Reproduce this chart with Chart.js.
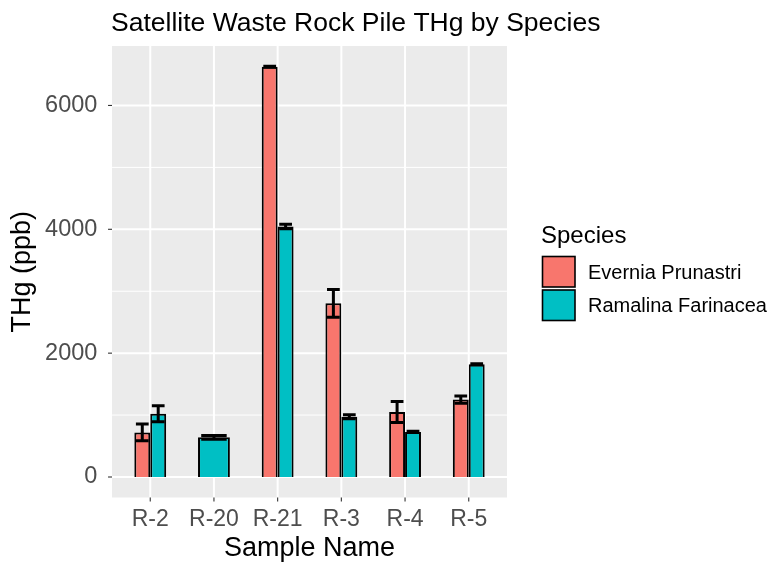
<!DOCTYPE html>
<html>
<head>
<meta charset="utf-8">
<title>Satellite Waste Rock Pile THg by Species</title>
<script src="https://cdn.jsdelivr.net/npm/chart.js@4/dist/chart.umd.min.js"></script>
<style>
  html, body { margin: 0; padding: 0; background: #ffffff; overflow: hidden; }
  #wrap { width: 777px; height: 563px; }
</style>
</head>
<body>
<div id="wrap"><canvas id="chart" width="777" height="563"></canvas></div>
<script>
// Sample names along the x axis
const categories = ['R-2', 'R-20', 'R-21', 'R-3', 'R-4', 'R-5'];

// Mean total mercury (ppb) and standard deviation per species
const everniaMean = [720, null, 6625, 2805, 1050, 1250];
const everniaSd   = [134, null, 10, 224, 169, 58];
const ramalinaMean = [1022, 640, 4045, 972, 728, 1820];
const ramalinaSd   = [128, 32, 35, 32, 10, 10];

// Axis ticks
const yMajorTicks = [0, 2000, 4000, 6000];
const yMinorTicks = [1000, 3000, 5000];

const speciesNames = ['Evernia Prunastri', 'Ramalina Farinacea'];
const speciesColors = ['#F8766D', '#00BFC4'];

const titleText = 'Satellite Waste Rock Pile THg by Species';
const legendTitle = 'Species';
const xTitle = 'Sample Name';
const yTitle = 'THg (ppb)';

const FONT = '"Liberation Sans", Arial, sans-serif';

// ggplot-like panel: grey background, white grid, tick marks, title, legend, error bars
const ggPanel = {
  id: 'ggPanel',
  beforeDraw(chart) {
    const { ctx, chartArea: a, scales: { x, y } } = chart;
    const step = (a.right - a.left) / categories.length;
    const pl = a.left - 0.1 * step, pr = a.right + 0.1 * step;
    ctx.save();
    ctx.fillStyle = '#ffffff';
    ctx.fillRect(0, 0, chart.width, chart.height);
    ctx.fillStyle = '#EBEBEB';
    ctx.fillRect(pl, a.top, pr - pl, a.bottom - a.top);
    ctx.strokeStyle = '#ffffff';
    // minor horizontal grid
    ctx.lineWidth = 1.0;
    yMinorTicks.forEach(v => {
      const py = y.getPixelForValue(v);
      ctx.beginPath(); ctx.moveTo(pl, py); ctx.lineTo(pr, py); ctx.stroke();
    });
    // major horizontal grid
    ctx.lineWidth = 2.0;
    yMajorTicks.forEach(v => {
      const py = y.getPixelForValue(v);
      ctx.beginPath(); ctx.moveTo(pl, py); ctx.lineTo(pr, py); ctx.stroke();
    });
    // vertical grid at categories
    categories.forEach((c, i) => {
      const px = x.getPixelForValue(i);
      ctx.beginPath(); ctx.moveTo(px, a.top); ctx.lineTo(px, a.bottom); ctx.stroke();
    });
    // tick marks
    ctx.strokeStyle = '#333333';
    ctx.lineWidth = 1.1;
    yMajorTicks.forEach(v => {
      const py = y.getPixelForValue(v);
      ctx.beginPath(); ctx.moveTo(pl - 4, py); ctx.lineTo(pl, py); ctx.stroke();
    });
    categories.forEach((c, i) => {
      const px = x.getPixelForValue(i);
      ctx.beginPath(); ctx.moveTo(px, a.bottom); ctx.lineTo(px, a.bottom + 4); ctx.stroke();
    });
    ctx.restore();
  },
  afterDatasetsDraw(chart) {
    const { ctx, scales: { y } } = chart;
    const sds = [everniaSd, ramalinaSd];
    ctx.save();
    ctx.strokeStyle = '#000000';
    ctx.lineWidth = 3;
    chart.data.datasets.forEach((ds, di) => {
      const meta = chart.getDatasetMeta(di);
      ds.data.forEach((v, j) => {
        if (v === null) return;
        const el = meta.data[j];
        const sd = sds[di][j];
        const cx = el.x, half = el.width * 0.4;
        const top = y.getPixelForValue(v + sd), bot = y.getPixelForValue(v - sd);
        ctx.beginPath();
        ctx.moveTo(cx, top); ctx.lineTo(cx, bot);
        ctx.moveTo(cx - half, top); ctx.lineTo(cx + half, top);
        ctx.moveTo(cx - half, bot); ctx.lineTo(cx + half, bot);
        ctx.stroke();
      });
    });
    ctx.restore();
  },
  afterDraw(chart) {
    const { ctx } = chart;
    ctx.save();
    // plot title
    ctx.fillStyle = '#000000';
    ctx.font = '26.5px ' + FONT;
    ctx.textAlign = 'left';
    ctx.textBaseline = 'alphabetic';
    ctx.fillText(titleText, 111, 30.5);
    // legend
    ctx.font = '24px ' + FONT;
    ctx.fillText(legendTitle, 541, 243);
    ctx.font = '20px ' + FONT;
    ctx.textBaseline = 'middle';
    chart.data.datasets.forEach((ds, i) => {
      const ky = 256.5 + i * 33.5;
      ctx.fillStyle = ds.backgroundColor;
      ctx.fillRect(542.5, ky, 32.5, 30.5);
      ctx.strokeStyle = '#000000';
      ctx.lineWidth = 1.6;
      ctx.strokeRect(542.5, ky, 32.5, 30.5);
      ctx.fillStyle = '#000000';
      ctx.fillText(ds.label, 588, ky + 16.5);
    });
    ctx.restore();
  }
};

const chart = new Chart(document.getElementById('chart'), {
  type: 'bar',
  data: {
    labels: categories,
    datasets: [
      {
        label: speciesNames[0],
        data: everniaMean,
        backgroundColor: speciesColors[0],
        borderColor: '#000000',
        borderWidth: 2,
        skipNull: true,
        categoryPercentage: 0.5,
        barPercentage: 1.0
      },
      {
        label: speciesNames[1],
        data: ramalinaMean,
        backgroundColor: speciesColors[1],
        borderColor: '#000000',
        borderWidth: 2,
        skipNull: true,
        categoryPercentage: 0.5,
        barPercentage: 1.0
      }
    ]
  },
  options: {
    responsive: false,
    animation: false,
    devicePixelRatio: 1,
    layout: { padding: { left: 0, top: 46, right: 276.4, bottom: 0 } },
    plugins: {
      legend: { display: false },
      title: { display: false },
      tooltip: { enabled: false }
    },
    scales: {
      x: {
        type: 'category',
        offset: true,
        grid: { display: false },
        border: { display: false },
        ticks: {
          color: '#4D4D4D',
          font: { family: FONT, size: 23 },
          padding: 0,
          maxRotation: 0,
          autoSkip: false
        },
        title: {
          display: true,
          text: xTitle,
          color: '#000000',
          font: { family: FONT, size: 27, lineHeight: 1 },
          padding: { top: 0, bottom: 1 }
        },
        afterFit(scale) { scale.height = 65.5; }
      },
      y: {
        type: 'linear',
        min: -331,
        max: 6960,
        grid: { display: false },
        border: { display: false },
        afterBuildTicks(scale) { scale.ticks = yMajorTicks.map(v => ({ value: v })); },
        ticks: {
          color: '#4D4D4D',
          font: { family: FONT, size: 23.5 },
          padding: 13,
          callback: v => String(v)
        },
        title: {
          display: true,
          text: yTitle,
          color: '#000000',
          font: { family: FONT, size: 27, lineHeight: 1 },
          padding: { top: 9.5, bottom: 0 }
        },
        afterFit(scale) { scale.width = 118.4; }
      }
    }
  },
  plugins: [ggPanel]
});
</script>
</body>
</html>
